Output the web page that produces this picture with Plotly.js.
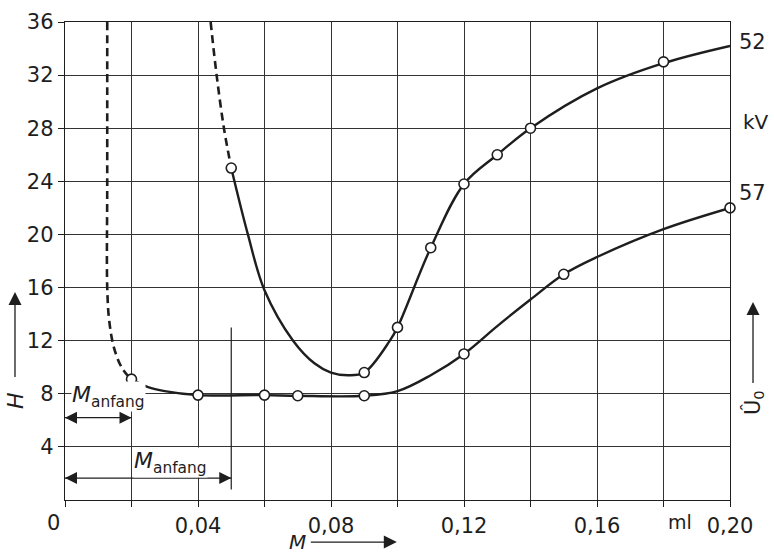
<!DOCTYPE html>
<html>
<head>
<meta charset="utf-8">
<script src="https://cdn.plot.ly/plotly-3.0.1.min.js"></script>
<style>
  html, body { margin: 0; padding: 0; background: #ffffff; }
  #chart { width: 774px; height: 555px; }
</style>
</head>
<body>
<div id="chart"></div>
<script>
// Measured points, 52 kV series
const upperMarkX = [0.05, 0.09, 0.10, 0.11, 0.12, 0.13, 0.14, 0.18];
const upperMarkY = [25, 9.6, 13, 19, 23.8, 26, 28, 33];
// Drawn course of the 52 kV curve
const upperCurveX = [0.05, 0.055, 0.06, 0.0686, 0.075, 0.08, 0.085, 0.09, 0.0977, 0.10, 0.11, 0.12, 0.13, 0.14, 0.16, 0.18, 0.20];
const upperCurveY = [25, 20, 15.8, 12, 10.3, 9.6, 9.4, 9.6, 12, 13, 19, 23.8, 26, 28, 31.0, 32.9, 34.2];
// Extrapolated (dashed) branch of the 52 kV curve
const upperDashX = [0.0438, 0.0456, 0.0478, 0.05];
const upperDashY = [36, 32, 28, 25];

// Measured points, 57 kV series
const lowerMarkX = [0.02, 0.04, 0.06, 0.07, 0.09, 0.12, 0.15, 0.20];
const lowerMarkY = [9.1, 7.9, 7.9, 7.85, 7.85, 11, 17, 22];
// Drawn course of the 57 kV curve
const lowerCurveX = [0.02, 0.025, 0.03, 0.04, 0.06, 0.07, 0.09, 0.10, 0.11, 0.12, 0.13, 0.14, 0.15, 0.16, 0.18, 0.20];
const lowerCurveY = [9.1, 8.5, 8.2, 7.9, 7.9, 7.85, 7.85, 8.2, 9.4, 11, 13.1, 15.1, 17, 18.3, 20.4, 22];
// Extrapolated (dashed) branch of the 57 kV curve
const lowerDashX = [0.0127, 0.0127, 0.0127, 0.0133, 0.0147, 0.017, 0.0198];
const lowerDashY = [36, 24, 16, 13.5, 11.5, 10, 9.1];

// Axis ticks: labelled ticks plus a grid line every 0.02 ml
const xTickVals = [0.04, 0.08, 0.12, 0.16, 0.20];
const xTickText = ['0,04', '0,08', '0,12', '0,16', '0,20'];
const xGridVals = [0, 0.02, 0.04, 0.06, 0.08, 0.10, 0.12, 0.14, 0.16, 0.18, 0.20];
const yTickVals = [4, 8, 12, 16, 20, 24, 28, 32, 36];
const yTickText = ['4', '8', '12', '16', '20', '24', '28', '32', '36'];

// Start-quantity spans (M_anfang) and series labels
const anfangSpanEnd = [0.02, 0.05];
const anfangSpanH = [6.2, 1.65];
const anfangLabelX = [0.0132, 0.0316];
const anfangLabelH = [7.8, 2.8];
const seriesLabels = ['52', '57'];
const seriesLabelH = [34.5, 23.1];

const INK = '#1e1e1e';
const FONT = 'DejaVu Sans, Liberation Sans, sans-serif';

function curve(x, y, dash) {
  return {
    x: x, y: y, type: 'scatter', mode: 'lines',
    line: { color: INK, width: dash ? 2.6 : 2.4, shape: 'spline', smoothing: 1, dash: dash ? '8px,5px' : 'solid' },
    hoverinfo: 'skip', cliponaxis: false
  };
}
function marks(x, y) {
  return {
    x: x, y: y, type: 'scatter', mode: 'markers',
    marker: { symbol: 'circle', size: 10, color: '#ffffff', line: { color: INK, width: 1.6 } },
    hoverinfo: 'skip', cliponaxis: false
  };
}
// double-headed dimension arrow from M = 0 to the span end
function span(xEnd, h) {
  return {
    x: [0, xEnd], y: [h, h], type: 'scatter', mode: 'lines+markers',
    line: { color: INK, width: 1.3 },
    marker: { symbol: ['arrow-left', 'arrow-right'], size: 12, color: INK, line: { width: 0 } },
    hoverinfo: 'skip', cliponaxis: false
  };
}

const data = [
  curve(upperDashX, upperDashY, true),
  curve(upperCurveX, upperCurveY, false),
  curve(lowerDashX, lowerDashY, true),
  curve(lowerCurveX, lowerCurveY, false),
  span(anfangSpanEnd[0], anfangSpanH[0]),
  span(anfangSpanEnd[1], anfangSpanH[1]),
  marks(upperMarkX, upperMarkY),
  marks(lowerMarkX, lowerMarkY)
];

const annotations = [];
// Extra x labels: origin and unit
annotations.push({ x: 0, xref: 'x', y: 0, yref: 'paper', yanchor: 'top', xanchor: 'center', yshift: -9, xshift: -12,
  text: '0', showarrow: false, font: { family: FONT, size: 21, color: INK } });
annotations.push({ x: 0.18, xref: 'x', y: 0, yref: 'paper', yanchor: 'top', xanchor: 'center', yshift: -9, xshift: 16,
  text: 'ml', showarrow: false, font: { family: FONT, size: 19, color: INK } });

// Series voltage labels on the right
seriesLabels.forEach(function (t, i) {
  annotations.push({ x: 1, xref: 'paper', y: seriesLabelH[i], yref: 'y', xanchor: 'left', xshift: 7,
    text: t, showarrow: false, font: { family: FONT, size: 21, color: INK } });
});
annotations.push({ x: 1, xref: 'paper', y: 28.45, yref: 'y', xanchor: 'left', xshift: 11,
  text: 'kV', showarrow: false, font: { family: FONT, size: 20, color: INK } });

// M_anfang labels
anfangLabelX.forEach(function (x, i) {
  annotations.push({ x: x, y: anfangLabelH[i], xref: 'x', yref: 'y', text: '<i>M</i><sub>anfang</sub>', showarrow: false,
    bgcolor: '#ffffff', borderpad: 0, font: { family: FONT, size: 22, color: INK } });
});

// Axis titles, each with its direction arrow
annotations.push({ x: -0.0752, y: 0.435, xref: 'paper', yref: 'paper', ax: 0, ay: 108,
  text: '<i>H</i>', textangle: -90, showarrow: true, startstandoff: 13,
  arrowhead: 2, arrowsize: 2.0, arrowwidth: 1.3, arrowcolor: INK, font: { family: FONT, size: 22, color: INK } });
annotations.push({ x: 1.0346, y: 0.414, xref: 'paper', yref: 'paper', ax: 0, ay: 101,
  text: 'Û<sub>0</sub>', textangle: -90, showarrow: true, startstandoff: 6,
  arrowhead: 2, arrowsize: 2.0, arrowwidth: 1.3, arrowcolor: INK, font: { family: FONT, size: 21, color: INK } });
annotations.push({ x: 0.499, y: -0.088, xref: 'paper', yref: 'paper', ax: -99, ay: 0,
  text: '<i>M</i>', showarrow: true, startstandoff: 3,
  arrowhead: 2, arrowsize: 2.0, arrowwidth: 1.3, arrowcolor: INK, font: { family: FONT, size: 20, color: INK } });

const shapes = [
  // marker line at the end of the second M_anfang span
  { type: 'line', xref: 'x', yref: 'y', x0: anfangSpanEnd[1], x1: anfangSpanEnd[1], y0: 0.8, y1: 13,
    line: { color: INK, width: 1.2 } }
];

const layout = {
  width: 774, height: 555,
  margin: { l: 65, r: 44, t: 22, b: 55 },
  paper_bgcolor: '#ffffff', plot_bgcolor: '#ffffff',
  showlegend: false,
  font: { family: FONT, size: 21, color: INK },
  xaxis: {
    range: [0, 0.20], tickmode: 'array', tickvals: xTickVals, ticktext: xTickText,
    ticks: 'outside', ticklen: 6, tickwidth: 1, tickcolor: INK,
    showgrid: true, gridcolor: '#333333', gridwidth: 1,
    minor: { tickmode: 'array', tickvals: xGridVals, ticks: 'outside', ticklen: 6, tickwidth: 1, tickcolor: INK,
             showgrid: true, gridcolor: '#333333', gridwidth: 1 },
    showline: true, linecolor: INK, linewidth: 1.3, mirror: true,
    zeroline: false, tickfont: { family: FONT, size: 21, color: INK }, fixedrange: true
  },
  yaxis: {
    range: [0, 36], tickmode: 'array', tickvals: yTickVals, ticktext: yTickText,
    ticks: 'outside', ticklen: 6, tickwidth: 1, tickcolor: INK,
    showgrid: true, gridcolor: '#333333', gridwidth: 1,
    showline: true, linecolor: INK, linewidth: 1.3, mirror: true,
    zeroline: false, tickfont: { family: FONT, size: 21, color: INK }, fixedrange: true
  },
  annotations: annotations,
  shapes: shapes
};

Plotly.newPlot('chart', data, layout, { displayModeBar: false, staticPlot: true });
</script>
</body>
</html>
